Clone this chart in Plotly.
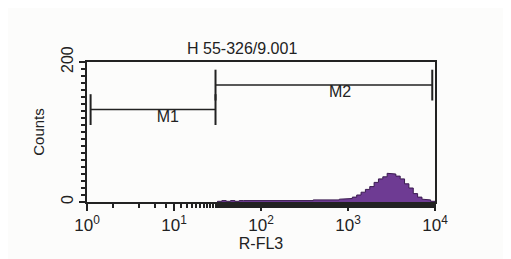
import numpy as np
import plotly.graph_objects as go

# Histogram channels (log10 of R-FL3 bin left edges, 0.05-decade bins from 10^1.5 to 10^4)
bin_log_edges = np.round(np.arange(1.50, 4.0001, 0.05), 2)
counts = [1, 2, 1, 2, 1, 2, 2, 1, 2, 1,
          2, 2, 1, 2, 2, 1, 2, 2, 2, 1,
          2, 2, 3, 2, 3, 3, 3, 3, 4, 4,
          5, 7, 10, 14, 18, 22, 28, 33, 36, 41,
          40, 37, 33, 26, 20, 12, 7, 4, 3, 1]

# Markers: name, low, high, counts level, label position
marker_names = ["M1", "M2"]
marker_low = [1.1, 30]
marker_high = [30, 9300]
marker_level = [132, 167]
marker_label_x = [8.5, 810]

title_text = "H 55-326/9.001"
x_title = "R-FL3"
y_title = "Counts"
x_tickvals = [1, 10, 100, 1000, 10000]
x_ticktext = ["10<sup>0</sup>", "10<sup>1</sup>", "10<sup>2</sup>", "10<sup>3</sup>", "10<sup>4</sup>"]
y_tickvals = [0, 200]

n = len(counts)
edges = 10 ** bin_log_edges[: n + 1]
xs, ys = [edges[0]], [0]
for i in range(n):
    xs += [edges[i], edges[i + 1]]
    ys += [counts[i], counts[i]]
xs.append(edges[n]); ys.append(0)

ink = "#222222"
fig = go.Figure()
fig.add_trace(go.Scatter(x=xs, y=ys, mode="lines", fill="tozeroy",
                         line=dict(color="#3a1a50", width=1),
                         fillcolor="#6e3b93", hoverinfo="skip"))

cap = 22
for name, lo, hi, lv, lx in zip(marker_names, marker_low, marker_high, marker_level, marker_label_x):
    fig.add_trace(go.Scatter(x=[lo, hi], y=[lv, lv], mode="lines",
                             line=dict(color=ink, width=1.5)))
    for xv in (lo, hi):
        fig.add_trace(go.Scatter(x=[xv, xv], y=[lv - cap, lv + cap], mode="lines",
                                 line=dict(color=ink, width=2)))
    fig.add_trace(go.Scatter(x=[lx], y=[lv], mode="text", text=[name],
                             textposition="bottom center",
                             textfont=dict(size=16, color=ink)))

fig.add_annotation(text=title_text, xref="paper", yref="paper", x=0.445, y=1,
                   xanchor="center", yanchor="bottom", yshift=3, showarrow=False,
                   font=dict(size=16, color=ink))

fig.update_layout(
    width=503, height=251, showlegend=False,
    margin=dict(l=79, r=76, t=54, b=55),
    paper_bgcolor="#fcfcfb", plot_bgcolor="#fcfcfb",
    font=dict(family="Liberation Sans, Arial, sans-serif", color=ink),
)
fig.update_xaxes(type="log", range=[0, 4], tickvals=x_tickvals, ticktext=x_ticktext,
                 showgrid=False, zeroline=False, showline=True, linecolor=ink,
                 linewidth=2, mirror=True, ticks="outside", ticklen=7, tickwidth=1.5,
                 tickcolor=ink, tickfont=dict(size=17),
                 minor=dict(ticks="outside", ticklen=4, tickcolor=ink, showgrid=False),
                 title=dict(text=x_title, font=dict(size=16), standoff=0))
fig.update_yaxes(range=[0, 200], tickvals=y_tickvals, tickangle=-90,
                 showgrid=False, zeroline=False, showline=True, linecolor=ink,
                 linewidth=2, mirror=True, ticks="outside", ticklen=6, tickwidth=1.5,
                 tickcolor=ink, tickfont=dict(size=16),
                 minor=dict(ticks="outside", ticklen=4, dtick=10, tickcolor=ink, showgrid=False),
                 title=dict(text=y_title, font=dict(size=15), standoff=10))

fig.write_html("out.html")
